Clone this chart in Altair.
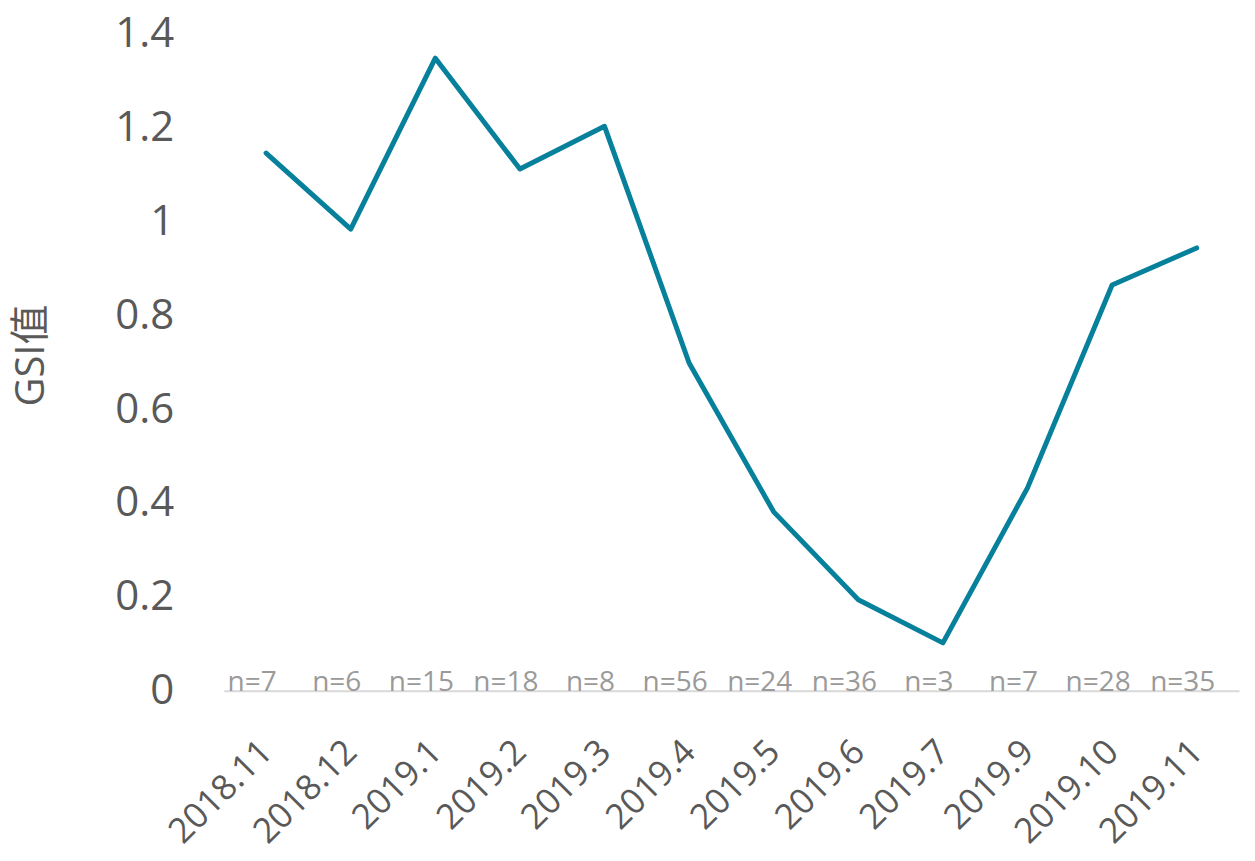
import altair as alt
import pandas as pd

months = ["2018.11", "2018.12", "2019.1", "2019.2", "2019.3", "2019.4",
          "2019.5", "2019.6", "2019.7", "2019.9", "2019.10", "2019.11"]
gsi = [1.145, 0.983, 1.347, 1.111, 1.202, 0.698,
       0.381, 0.194, 0.102, 0.432, 0.864, 0.943]
n_counts = [7, 6, 15, 18, 8, 56, 24, 36, 3, 7, 28, 35]
y_ticks = [0, 0.2, 0.4, 0.6, 0.8, 1, 1.2, 1.4]

df = pd.DataFrame({"month": months, "gsi": gsi, "n": n_counts})
df["label"] = ["n=" + str(v) for v in n_counts]
df["zero"] = 0

FONT = "Open Sans, Noto Sans CJK SC, sans-serif"

x_enc = alt.X("month:N", sort=months, title=None,
              axis=alt.Axis(labelAngle=-45, labelAlign="right", labelBaseline="middle",
                            labelFontSize=35, labelColor="#595959", labelFont=FONT,
                            ticks=False, labelPadding=55, domain=True,
                            domainColor="#d9d9d9", domainWidth=2, grid=False))

line = alt.Chart(df).mark_line(color="#07809C", strokeWidth=5, strokeCap="round",
                               strokeJoin="round").encode(
    x=x_enc,
    y=alt.Y("gsi:Q", scale=alt.Scale(domain=[0, 1.4], nice=False),
            axis=alt.Axis(values=y_ticks, format="~g", domain=False, ticks=False, grid=False,
                          labelFontSize=42, labelColor="#595959", labelFont=FONT,
                          labelPadding=50, title="GSI值", titleFont=FONT,
                          titleFontSize=40, titleFontWeight="normal", titleColor="#595959",
                          titleX=-192, titleY=322, titleAlign="center",
                          titleBaseline="middle", titleAngle=-90)),
)

labels = alt.Chart(df).mark_text(fontSize=28, color="#9a9a9a", font=FONT,
                                 baseline="bottom", dy=6, dx=-14).encode(
    x=alt.X("month:N", sort=months),
    y=alt.Y("zero:Q"),
    text="label:N",
)

chart = alt.layer(line, labels).properties(
    width=1016, height=658,
    background="white",
    autosize=alt.AutoSizeParams(type="none"),
    padding={"left": 216, "top": 25, "right": 8, "bottom": 160},
).configure_view(strokeWidth=0, stroke="transparent")

chart.save("out.html", embed_options={"renderer": "svg", "actions": False})
